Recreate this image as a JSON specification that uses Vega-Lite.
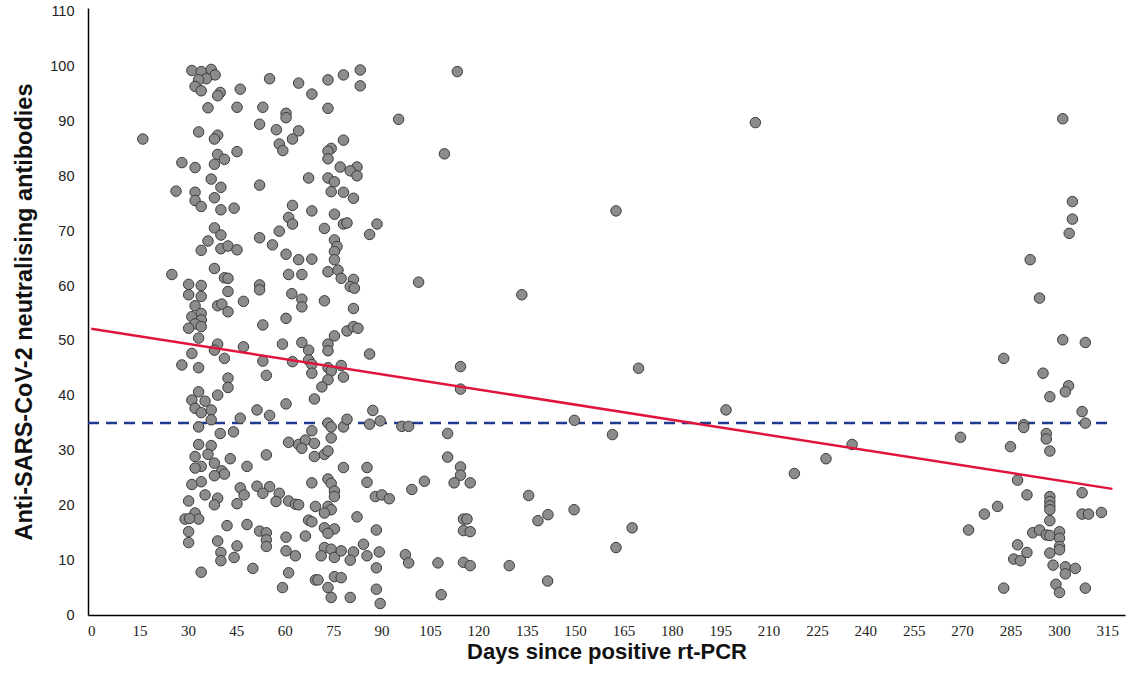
{
"$schema": "https://vega.github.io/schema/vega-lite/v6.json",
"width": 1037, "height": 607,
"autosize": "none",
"padding": {"left": 88, "top": 8, "right": 6, "bottom": 73},
"background": "white",
"config": {
  "view": {"stroke": null},
  "font": "Liberation Sans",
  "axis": {"grid": false, "ticks": false, "tickSize": 0, "domainColor": "#000", "domainWidth": 1.5,
           "labelColor": "#222", "labelFontSize": 14.5, "titleFontSize": 23.5, "titleFontWeight": "bold", "titleColor": "#111"}
},
"datasets": {
  "fit": [{"d": 0, "v": 52.2}, {"d": 316.6, "v": 23.0}],
  "ref": [{"d": -1, "d2": 317, "v": 35}],
  "pts": [
{"d":31.2,"v":99.3},{"d":34.1,"v":99.1},{"d":37.2,"v":99.5},{"d":38.4,"v":98.5},{"d":35.7,"v":97.8},{"d":33.3,"v":97.6},{"d":32.2,"v":96.4},{"d":34.1,"v":95.6},{"d":40.0,"v":95.3},{"d":39.2,"v":94.7},{"d":46.2,"v":95.9},{"d":36.2,"v":92.5},{"d":45.2,"v":92.6},{"d":16.0,"v":86.8},{"d":33.3,"v":88.1},{"d":39.2,"v":87.5},{"d":38.2,"v":86.8},{"d":45.2,"v":84.5},{"d":39.2,"v":84.0},{"d":41.3,"v":83.1},{"d":38.2,"v":82.2},{"d":28.1,"v":82.5},{"d":32.2,"v":81.6},{"d":37.2,"v":79.5},{"d":40.2,"v":78.0},{"d":26.3,"v":77.3},{"d":32.2,"v":77.1},{"d":32.2,"v":75.6},{"d":34.1,"v":74.5},{"d":38.2,"v":76.1},{"d":40.2,"v":73.9},{"d":44.3,"v":74.2},{"d":38.2,"v":70.6},{"d":40.2,"v":69.3},{"d":36.2,"v":68.2},{"d":34.1,"v":66.5},{"d":40.2,"v":66.8},{"d":42.4,"v":67.3},{"d":45.2,"v":66.6},
{"d":25.0,"v":62.1},{"d":38.2,"v":63.2},{"d":41.3,"v":61.5},{"d":42.4,"v":61.4},{"d":30.2,"v":60.3},{"d":34.1,"v":60.1},{"d":30.2,"v":58.4},{"d":34.1,"v":58.1},{"d":42.4,"v":59.0},{"d":47.2,"v":57.2},{"d":39.2,"v":56.4},{"d":40.5,"v":56.7},{"d":42.4,"v":55.3},{"d":32.2,"v":56.4},{"d":34.1,"v":55.0},{"d":31.2,"v":54.4},{"d":34.1,"v":53.8},{"d":32.2,"v":53.1},{"d":34.1,"v":52.6},{"d":30.2,"v":52.3},{"d":33.3,"v":50.5},{"d":39.2,"v":49.4},{"d":38.2,"v":48.3},{"d":41.3,"v":46.8},{"d":47.2,"v":48.9},{"d":31.2,"v":47.7},{"d":28.1,"v":45.6},{"d":33.3,"v":45.1},{"d":42.4,"v":43.2},{"d":42.4,"v":41.5},{"d":33.3,"v":40.7},{"d":39.2,"v":40.1},{"d":31.2,"v":39.2},{"d":35.3,"v":39.0},{"d":32.2,"v":37.7},{"d":37.2,"v":37.4},{"d":34.1,"v":36.9},{"d":46.2,"v":35.9},{"d":37.2,"v":35.6},{"d":33.3,"v":34.3},{"d":40.0,"v":33.1},{"d":44.1,"v":33.4},
{"d":33.3,"v":31.1},{"d":37.2,"v":30.9},{"d":32.2,"v":28.9},{"d":36.2,"v":29.3},{"d":43.1,"v":28.5},{"d":38.2,"v":27.7},{"d":34.1,"v":27.1},{"d":32.2,"v":26.8},{"d":40.5,"v":26.3},{"d":41.3,"v":25.7},{"d":38.2,"v":25.4},{"d":48.3,"v":27.1},{"d":34.1,"v":24.3},{"d":31.2,"v":23.8},{"d":46.2,"v":23.2},{"d":47.4,"v":21.9},{"d":35.3,"v":21.9},{"d":39.2,"v":21.3},{"d":38.2,"v":20.1},{"d":45.2,"v":20.3},{"d":30.2,"v":20.8},{"d":32.2,"v":18.6},{"d":29.1,"v":17.5},{"d":33.3,"v":17.5},{"d":30.5,"v":17.6},{"d":42.1,"v":16.3},{"d":48.3,"v":16.5},{"d":30.2,"v":15.2},{"d":30.2,"v":13.2},{"d":39.2,"v":13.5},{"d":45.2,"v":12.6},{"d":40.2,"v":11.4},{"d":40.2,"v":9.9},{"d":44.3,"v":10.5},{"d":50.1,"v":8.5},{"d":34.1,"v":7.8},
{"d":55.3,"v":97.8},{"d":64.3,"v":97.0},{"d":68.4,"v":95.0},{"d":73.4,"v":97.6},{"d":78.2,"v":98.5},{"d":83.4,"v":99.4},{"d":83.4,"v":96.5},{"d":53.2,"v":92.6},{"d":60.4,"v":91.5},{"d":60.4,"v":90.7},{"d":73.4,"v":92.4},{"d":52.2,"v":89.5},{"d":57.4,"v":88.5},{"d":64.3,"v":88.3},{"d":62.4,"v":86.8},{"d":58.3,"v":85.9},{"d":59.4,"v":84.7},{"d":78.2,"v":86.6},{"d":74.4,"v":85.1},{"d":73.4,"v":84.6},{"d":73.4,"v":83.2},{"d":77.2,"v":81.7},{"d":82.4,"v":81.7},{"d":80.3,"v":81.0},{"d":82.4,"v":80.1},{"d":52.2,"v":78.4},{"d":67.4,"v":79.7},{"d":73.4,"v":79.7},{"d":75.4,"v":79.0},{"d":74.4,"v":77.2},{"d":78.2,"v":77.1},{"d":81.3,"v":76.0},{"d":62.4,"v":74.7},{"d":61.2,"v":72.5},{"d":62.4,"v":71.3},{"d":68.4,"v":73.7},{"d":75.4,"v":73.1},{"d":78.2,"v":71.3},{"d":79.3,"v":71.5},{"d":88.6,"v":71.3},{"d":86.3,"v":69.4},{"d":72.3,"v":70.5},{"d":52.2,"v":68.8},{"d":58.3,"v":70.0},{"d":56.2,"v":67.5},{"d":60.4,"v":65.8},{"d":75.4,"v":68.4},{"d":76.2,"v":67.2},{"d":75.4,"v":66.3},
{"d":64.3,"v":64.8},{"d":68.4,"v":64.9},{"d":75.4,"v":64.8},{"d":73.4,"v":62.6},{"d":76.5,"v":62.9},{"d":77.5,"v":61.4},{"d":81.3,"v":61.2},{"d":80.3,"v":59.9},{"d":81.6,"v":59.6},{"d":61.2,"v":62.1},{"d":65.3,"v":62.1},{"d":52.2,"v":60.2},{"d":52.2,"v":59.3},{"d":62.2,"v":58.6},{"d":65.3,"v":57.6},{"d":65.3,"v":56.2},{"d":72.3,"v":57.3},{"d":81.3,"v":55.9},{"d":60.4,"v":54.1},{"d":53.2,"v":52.9},{"d":79.3,"v":51.8},{"d":81.3,"v":52.6},{"d":82.7,"v":52.3},{"d":75.4,"v":50.9},{"d":59.3,"v":49.4},{"d":65.3,"v":49.7},{"d":67.4,"v":48.3},{"d":73.4,"v":49.4},{"d":73.4,"v":48.2},{"d":86.3,"v":47.6},{"d":53.2,"v":46.3},{"d":62.4,"v":46.2},{"d":67.4,"v":46.5},{"d":68.4,"v":45.7},{"d":73.4,"v":45.1},{"d":74.4,"v":44.5},{"d":77.5,"v":45.5},{"d":68.4,"v":44.1},{"d":78.2,"v":43.4},{"d":54.3,"v":43.7},{"d":73.4,"v":42.9},{"d":71.5,"v":41.6},{"d":69.2,"v":39.4},{"d":60.4,"v":38.5},{"d":51.4,"v":37.4},{"d":55.3,"v":36.4},{"d":87.3,"v":37.3},{"d":86.3,"v":34.8},{"d":89.6,"v":35.4},{"d":73.4,"v":35.0},{"d":74.4,"v":34.3},{"d":78.2,"v":34.3},{"d":79.3,"v":35.7},{"d":68.4,"v":33.6},
{"d":74.4,"v":32.3},{"d":61.2,"v":31.5},{"d":64.3,"v":31.1},{"d":66.4,"v":31.9},{"d":65.3,"v":30.4},{"d":69.2,"v":31.3},{"d":69.2,"v":28.9},{"d":72.3,"v":29.3},{"d":73.4,"v":29.9},{"d":54.3,"v":29.2},{"d":78.2,"v":26.9},{"d":85.5,"v":26.9},{"d":85.5,"v":24.2},{"d":68.4,"v":24.1},{"d":73.4,"v":24.8},{"d":74.4,"v":24.0},{"d":75.4,"v":22.6},{"d":75.4,"v":21.6},{"d":51.4,"v":23.5},{"d":55.3,"v":23.4},{"d":53.2,"v":22.2},{"d":58.3,"v":22.2},{"d":57.3,"v":20.7},{"d":61.2,"v":20.8},{"d":63.3,"v":20.2},{"d":64.3,"v":20.1},{"d":69.5,"v":19.8},{"d":73.4,"v":19.8},{"d":74.4,"v":19.2},{"d":72.3,"v":18.6},{"d":88.1,"v":21.6},{"d":90.1,"v":21.9},{"d":82.4,"v":17.9},{"d":67.4,"v":17.3},{"d":68.4,"v":17.0},{"d":72.3,"v":15.9},{"d":75.4,"v":15.7},{"d":73.4,"v":14.9},{"d":52.2,"v":15.3},{"d":54.3,"v":15.0},{"d":54.3,"v":13.7},{"d":54.3,"v":12.5},{"d":60.4,"v":14.2},{"d":66.4,"v":14.4},{"d":88.4,"v":15.5},{"d":60.4,"v":11.7},{"d":63.3,"v":10.8},{"d":72.3,"v":12.3},{"d":74.4,"v":12.0},{"d":71.3,"v":10.8},{"d":75.4,"v":10.5},{"d":77.5,"v":11.7},{"d":81.3,"v":11.5},{"d":80.3,"v":10.0},{"d":84.4,"v":12.9},{"d":85.5,"v":10.8},{"d":89.3,"v":11.5},{"d":88.4,"v":8.6},{"d":61.2,"v":7.7},{"d":69.5,"v":6.4},{"d":70.3,"v":6.4},{"d":75.4,"v":7.0},{"d":77.5,"v":6.8},{"d":73.4,"v":5.0},{"d":74.4,"v":3.2},{"d":80.3,"v":3.2},{"d":59.3,"v":5.0},{"d":88.4,"v":4.7},{"d":89.6,"v":2.1},
{"d":92.4,"v":21.2},{"d":96.3,"v":34.4},{"d":98.4,"v":34.4},{"d":113.5,"v":99.1},{"d":95.3,"v":90.4},{"d":109.5,"v":84.1},{"d":162.7,"v":73.7},{"d":101.5,"v":60.7},{"d":133.5,"v":58.4},{"d":114.5,"v":45.3},{"d":169.7,"v":45.0},{"d":114.5,"v":41.2},{"d":149.8,"v":35.5},{"d":110.5,"v":33.1},{"d":161.6,"v":32.9},{"d":110.5,"v":28.8},{"d":114.5,"v":27.0},{"d":114.5,"v":25.5},{"d":103.3,"v":24.4},{"d":112.5,"v":24.1},{"d":117.5,"v":24.1},{"d":99.4,"v":22.9},{"d":135.6,"v":21.8},{"d":149.7,"v":19.2},{"d":141.6,"v":18.3},{"d":138.5,"v":17.2},{"d":115.4,"v":17.5},{"d":116.5,"v":17.5},{"d":115.4,"v":15.4},{"d":117.5,"v":15.2},{"d":167.7,"v":15.9},{"d":162.7,"v":12.3},{"d":97.4,"v":11.0},{"d":98.4,"v":9.5},{"d":107.5,"v":9.5},{"d":115.4,"v":9.6},{"d":117.5,"v":9.0},{"d":129.6,"v":9.0},{"d":141.5,"v":6.2},{"d":108.5,"v":3.7},
{"d":205.9,"v":89.8},{"d":196.8,"v":37.4},{"d":235.9,"v":31.1},{"d":227.8,"v":28.5},{"d":218.0,"v":25.8},
{"d":301.2,"v":90.5},{"d":304.2,"v":75.4},{"d":304.2,"v":72.2},{"d":303.2,"v":69.6},{"d":291.1,"v":64.8},{"d":294.0,"v":57.8},{"d":301.2,"v":50.2},{"d":308.2,"v":49.7},{"d":282.9,"v":46.8},{"d":295.1,"v":44.1},{"d":303.0,"v":41.8},{"d":302.0,"v":40.7},{"d":297.2,"v":39.8},{"d":307.2,"v":37.1},{"d":289.1,"v":34.7},{"d":289.1,"v":34.2},{"d":308.2,"v":35.0},{"d":296.1,"v":33.1},{"d":296.1,"v":32.1},{"d":297.2,"v":29.9},{"d":285.0,"v":30.7},{"d":269.5,"v":32.4},{"d":287.2,"v":24.6},{"d":290.1,"v":21.9},{"d":307.2,"v":22.3},{"d":297.2,"v":21.6},{"d":297.2,"v":20.7},{"d":297.2,"v":19.9},{"d":297.2,"v":19.2},{"d":297.2,"v":17.2},{"d":281.0,"v":19.8},{"d":276.9,"v":18.4},{"d":272.0,"v":15.5},{"d":307.2,"v":18.4},{"d":309.2,"v":18.4},{"d":313.2,"v":18.7},{"d":291.9,"v":15.0},{"d":294.0,"v":15.5},{"d":296.1,"v":14.6},{"d":297.2,"v":14.5},{"d":300.2,"v":15.2},{"d":300.2,"v":14.0},{"d":300.2,"v":12.5},{"d":300.2,"v":11.9},{"d":297.2,"v":11.3},{"d":287.2,"v":12.8},{"d":290.1,"v":11.4},{"d":286.0,"v":10.2},{"d":288.1,"v":9.9},{"d":298.2,"v":9.1},{"d":302.0,"v":8.8},{"d":302.0,"v":7.5},{"d":305.1,"v":8.5},{"d":282.9,"v":4.9},{"d":299.1,"v":5.6},{"d":300.2,"v":4.1},{"d":308.2,"v":4.9}
  ]
},
"layer": [
  {
    "data": {"name": "ref"},
    "mark": {"type": "rule", "color": "#1f3b8f", "strokeWidth": 2.5, "strokeDash": [11, 7]},
    "encoding": {
      "x": {"field": "d", "type": "quantitative", "scale": {"domain": [-1, 320.5], "nice": false, "zero": false}},
      "x2": {"field": "d2"},
      "y": {"field": "v", "type": "quantitative", "scale": {"domain": [0, 110.7], "nice": false}}
    }
  },
  {
    "data": {"name": "pts"},
    "mark": {"type": "point", "filled": true, "fill": "#8c8c8c", "stroke": "#3c3c3c", "strokeWidth": 1, "opacity": 1, "fillOpacity": 1, "size": 110},
    "encoding": {
      "x": {"field": "d", "type": "quantitative", "scale": {"domain": [-1, 320.5], "nice": false, "zero": false},
            "axis": {"values": [0,15,30,45,60,75,90,105,120,135,150,165,180,195,210,225,240,255,270,285,300,315],
                     "title": "Days since positive rt-PCR", "labelFont": "Liberation Sans Narrow", "labelFontSize": 15,
                     "labelPadding": 8, "titlePadding": 3, "titleFontSize": 22, "labelFlush": false}},
      "y": {"field": "v", "type": "quantitative", "scale": {"domain": [0, 110.7], "nice": false},
            "axis": {"values": [0,10,20,30,40,50,60,70,80,90,100,110], "title": "Anti-SARS-CoV-2 neutralising antibodies",
                     "labelPadding": 14, "titlePadding": 13, "labelFlush": false}}
    }
  },
  {
    "data": {"name": "fit"},
    "mark": {"type": "line", "color": "#e0143c", "strokeWidth": 2.5},
    "encoding": {
      "x": {"field": "d", "type": "quantitative", "scale": {"domain": [-1, 320.5], "nice": false, "zero": false}},
      "y": {"field": "v", "type": "quantitative", "scale": {"domain": [0, 110.7], "nice": false}}
    }
  }
]
}
